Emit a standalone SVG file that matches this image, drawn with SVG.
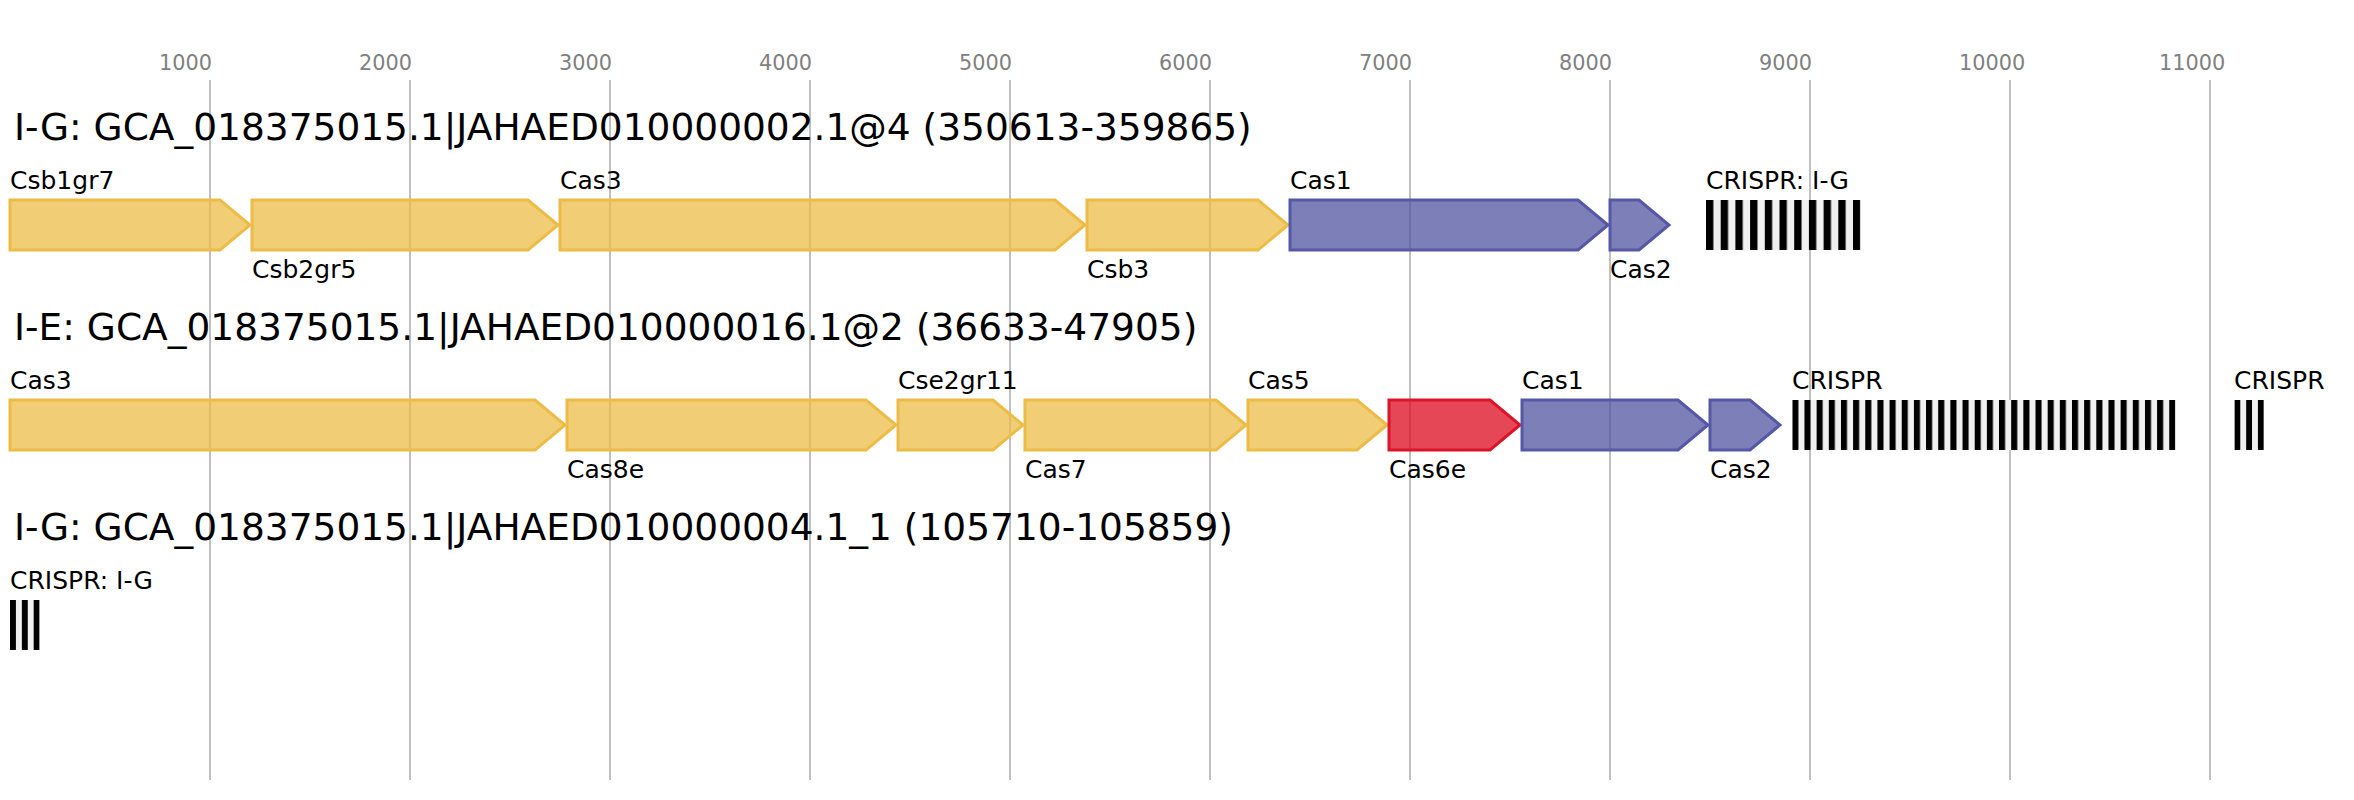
<svg xmlns="http://www.w3.org/2000/svg" width="2354" height="800" viewBox="0 0 2354 800">
<style>
text{font-family:"DejaVu Sans","Liberation Sans",sans-serif}
.tick{font-size:20.8px;fill:#808080}
.title{font-size:37.5px;fill:#000}
.lbl{font-size:25px;fill:#000}
.grid line{stroke:#c0c0c0;stroke-width:2}
.y{fill:#ECBC47;fill-opacity:0.75;stroke:#ECBC47;stroke-width:3}
.b{fill:#5254A2;fill-opacity:0.75;stroke:#5558A6;stroke-width:3}
.r{fill:#DC0A1E;fill-opacity:0.75;stroke:#DC1428;stroke-width:3}
.sp{fill:#f0f0f0}
</style>
<defs>
<pattern id="p1" patternUnits="userSpaceOnUse" x="1706" y="0" width="14.7" height="800"><rect x="0" y="0" width="7.35" height="800" fill="#000"/></pattern>
<pattern id="p2" patternUnits="userSpaceOnUse" x="1792.3" y="0" width="12.16" height="800"><rect x="0" y="0" width="6.08" height="800" fill="#000"/></pattern>
<pattern id="p3" patternUnits="userSpaceOnUse" x="2234.4" y="0" width="11.76" height="800"><rect x="0" y="0" width="5.88" height="800" fill="#000"/></pattern>
<pattern id="p4" patternUnits="userSpaceOnUse" x="10" y="0" width="11.84" height="800"><rect x="0" y="0" width="5.92" height="800" fill="#000"/></pattern>
</defs>
<rect width="2354" height="800" fill="#fff"/>
<g id="axis">
<g class="grid">
<line x1="210" y1="80" x2="210" y2="780"/>
<line x1="410" y1="80" x2="410" y2="780"/>
<line x1="610" y1="80" x2="610" y2="780"/>
<line x1="810" y1="80" x2="810" y2="780"/>
<line x1="1010" y1="80" x2="1010" y2="780"/>
<line x1="1210" y1="80" x2="1210" y2="780"/>
<line x1="1410" y1="80" x2="1410" y2="780"/>
<line x1="1610" y1="80" x2="1610" y2="780"/>
<line x1="1810" y1="80" x2="1810" y2="780"/>
<line x1="2010" y1="80" x2="2010" y2="780"/>
<line x1="2210" y1="80" x2="2210" y2="780"/>
</g>
<text class="tick" x="159" y="70">1000</text>
<text class="tick" x="359" y="70">2000</text>
<text class="tick" x="559" y="70">3000</text>
<text class="tick" x="759" y="70">4000</text>
<text class="tick" x="959" y="70">5000</text>
<text class="tick" x="1159" y="70">6000</text>
<text class="tick" x="1359" y="70">7000</text>
<text class="tick" x="1559" y="70">8000</text>
<text class="tick" x="1759" y="70">9000</text>
<text class="tick" x="1959" y="70">10000</text>
<text class="tick" x="2159" y="70">11000</text>
</g>
<g id="connectors"></g>

<text class="title" x="14" y="140">I-G: GCA_018375015.1|JAHAED010000002.1@4 (350613-359865)</text>
<g id="r1-csb1gr7"><path class="y" d="M10,200 L220,200 L250,225 L220,250 L10,250 Z"/><text class="lbl" x="10" y="189">Csb1gr7</text></g>
<g id="r1-csb2gr5"><path class="y" d="M252,200 L528,200 L558,225 L528,250 L252,250 Z"/><text class="lbl" x="252" y="278">Csb2gr5</text></g>
<g id="r1-cas3"><path class="y" d="M560,200 L1055,200 L1085,225 L1055,250 L560,250 Z"/><text class="lbl" x="560" y="189">Cas3</text></g>
<g id="r1-csb3"><path class="y" d="M1087,200 L1258,200 L1288,225 L1258,250 L1087,250 Z"/><text class="lbl" x="1087" y="278">Csb3</text></g>
<g id="r1-cas1"><path class="b" d="M1290,200 L1578,200 L1608,225 L1578,250 L1290,250 Z"/><text class="lbl" x="1290" y="189">Cas1</text></g>
<g id="r1-cas2"><path class="b" d="M1610,200 L1639,200 L1669,225 L1639,250 L1610,250 Z"/><text class="lbl" x="1610" y="278">Cas2</text></g>
<g id="r1-crispr"><rect class="sp" x="1706" y="200" width="154.35" height="50"/><rect x="1706" y="200" width="154.35" height="50" fill="url(#p1)"/><text class="lbl" x="1706" y="189">CRISPR: I-G</text></g>

<text class="title" x="14" y="340">I-E: GCA_018375015.1|JAHAED010000016.1@2 (36633-47905)</text>
<g id="r2-cas3"><path class="y" d="M10,400 L535,400 L565,425 L535,450 L10,450 Z"/><text class="lbl" x="10" y="389">Cas3</text></g>
<g id="r2-cas8e"><path class="y" d="M567,400 L866,400 L896,425 L866,450 L567,450 Z"/><text class="lbl" x="567" y="478">Cas8e</text></g>
<g id="r2-cse2gr11"><path class="y" d="M898,400 L993,400 L1023,425 L993,450 L898,450 Z"/><text class="lbl" x="898" y="389">Cse2gr11</text></g>
<g id="r2-cas7"><path class="y" d="M1025,400 L1216,400 L1246,425 L1216,450 L1025,450 Z"/><text class="lbl" x="1025" y="478">Cas7</text></g>
<g id="r2-cas5"><path class="y" d="M1248,400 L1357,400 L1387,425 L1357,450 L1248,450 Z"/><text class="lbl" x="1248" y="389">Cas5</text></g>
<g id="r2-cas6e"><path class="r" d="M1389,400 L1490,400 L1520,425 L1490,450 L1389,450 Z"/><text class="lbl" x="1389" y="478">Cas6e</text></g>
<g id="r2-cas1"><path class="b" d="M1522,400 L1678,400 L1708,425 L1678,450 L1522,450 Z"/><text class="lbl" x="1522" y="389">Cas1</text></g>
<g id="r2-cas2"><path class="b" d="M1710,400 L1750,400 L1780,425 L1750,450 L1710,450 Z"/><text class="lbl" x="1710" y="478">Cas2</text></g>
<g id="r2-crispr1"><rect class="sp" x="1792.3" y="400" width="383" height="50"/><rect x="1792.3" y="400" width="383" height="50" fill="url(#p2)"/><text class="lbl" x="1792" y="389">CRISPR</text></g>
<g id="r2-crispr2"><rect class="sp" x="2234.4" y="400" width="29.4" height="50"/><rect x="2234.4" y="400" width="29.4" height="50" fill="url(#p3)"/><text class="lbl" x="2234" y="389">CRISPR</text></g>

<text class="title" x="14" y="540">I-G: GCA_018375015.1|JAHAED010000004.1_1 (105710-105859)</text>
<g id="r3-crispr"><rect class="sp" x="10" y="600" width="29.6" height="50"/><rect x="10" y="600" width="29.6" height="50" fill="url(#p4)"/><text class="lbl" x="10" y="589">CRISPR: I-G</text></g>
</svg>
